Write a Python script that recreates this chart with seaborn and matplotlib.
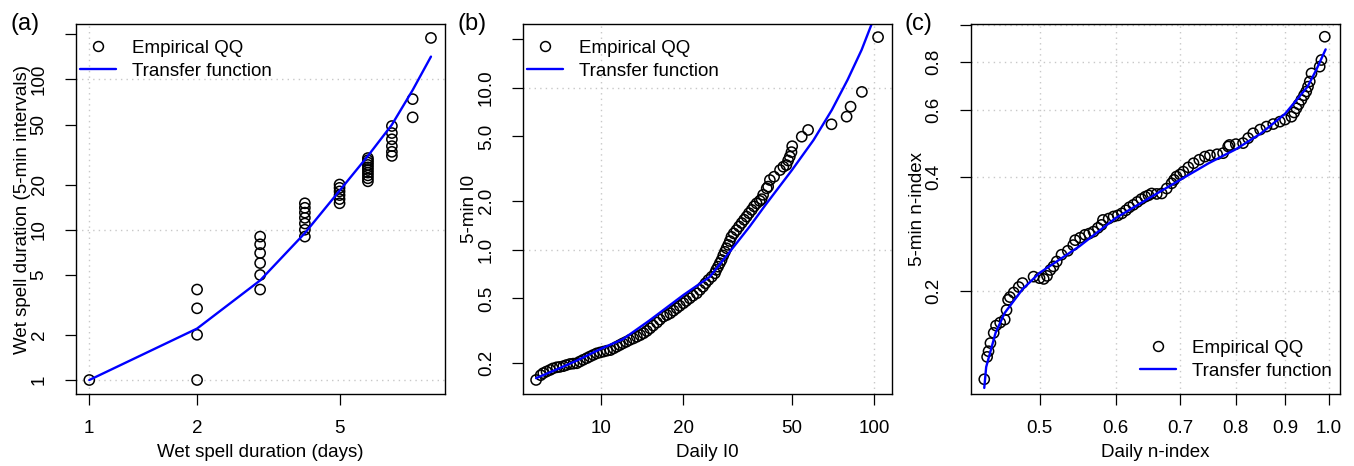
import matplotlib
matplotlib.use("Agg")
import matplotlib.pyplot as plt
from matplotlib.lines import Line2D
import seaborn as sns

# ---- (a) wet spell duration ----
a_days = [1,
          2, 2, 2, 2,
          3, 3, 3, 3, 3, 3,
          4, 4, 4, 4, 4, 4, 4,
          5, 5, 5, 5, 5, 5,
          6, 6, 6, 6, 6, 6, 6, 6, 6, 6,
          7, 7, 7, 7, 7, 7,
          8, 8,
          9]
a_intervals = [1,
               1, 2, 3, 4,
               4, 5, 6, 7, 8, 9,
               9, 10, 11, 12, 13, 14, 15,
               15, 16, 17, 18, 19, 20,
               21, 22, 23, 24, 25, 26, 27, 28, 29, 30,
               31, 33, 36, 40, 44, 49,
               56, 74,
               189]
a_tf_x = [1, 2, 3, 4, 5, 6, 7, 8, 9]
a_tf_y = [1, 2.2, 4.6, 9.5, 18.2, 31, 50, 85, 142]

# ---- (b) I0 ----
b_daily = [5.77, 6.0, 6.13, 6.3, 6.49, 6.65, 6.87, 7.05, 7.26, 7.45, 7.68, 7.9,
           8.13, 8.35, 8.59, 8.85, 9.09, 9.35, 9.62, 9.9, 10.2, 10.5, 10.8, 11.1,
           11.4, 11.7, 12.0, 12.35, 12.7, 13.1, 13.5, 13.9, 14.3, 14.7, 15.1, 15.5,
           16.0, 16.4, 16.9, 17.4, 17.9, 18.4, 18.9, 19.4, 20.0, 20.5, 21.1, 21.7,
           22.4, 23.0, 23.6, 24.1, 24.7, 25.4, 26.1, 26.4, 26.8, 27.2, 27.6, 28.0,
           28.4, 28.8, 29.2, 29.6, 30.0, 30.6, 31.3, 32.0, 32.7, 33.4, 34.1, 34.8,
           35.6, 36.3, 37.1, 38.1, 38.7, 39.2, 40.4, 40.9, 41.5, 43.0, 45.2, 46.5,
           47.7, 48.4, 49.1, 49.8, 50.1, 54.3, 57.3, 69.8, 79.3, 82.0, 90.2, 103.4]
b_5min = [0.157, 0.168, 0.173, 0.177, 0.181, 0.185, 0.188, 0.189, 0.191, 0.194, 0.197, 0.198,
          0.199, 0.204, 0.209, 0.214, 0.219, 0.224, 0.229, 0.232, 0.235, 0.238, 0.240, 0.246,
          0.252, 0.258, 0.264, 0.270, 0.277, 0.283, 0.290, 0.297, 0.305, 0.315, 0.327, 0.340,
          0.355, 0.370, 0.386, 0.395, 0.405, 0.420, 0.435, 0.450, 0.467, 0.483, 0.501, 0.520,
          0.538, 0.565, 0.591, 0.620, 0.650, 0.680, 0.715, 0.750, 0.785, 0.825, 0.864, 0.920,
          0.970, 1.02, 1.07, 1.13, 1.20, 1.26, 1.32, 1.39, 1.46, 1.53, 1.60, 1.68,
          1.76, 1.85, 1.93, 2.00, 2.05, 2.18, 2.39, 2.45, 2.69, 2.82, 3.10, 3.25,
          3.33, 3.55, 3.75, 4.00, 4.35, 4.98, 5.48, 5.94, 6.62, 7.63, 9.41, 20.5]
b_tf_x = [5.77, 7, 8, 10, 12, 15, 20, 25, 30, 35, 40, 50, 60, 70, 80, 90, 100]
b_tf_y = [0.161, 0.185, 0.204, 0.245, 0.28, 0.365, 0.525, 0.68, 1.0, 1.39, 1.89,
          3.1, 4.75, 7.28, 11.2, 17.1, 27.0]

# ---- (c) n-index ----
c_daily = [0.438, 0.441, 0.4425, 0.4445, 0.448, 0.4505, 0.455, 0.460, 0.462, 0.4637,
           0.4657, 0.470, 0.4757, 0.480, 0.4929, 0.500, 0.505, 0.509, 0.513, 0.517,
           0.521, 0.527, 0.535, 0.542, 0.5445, 0.551, 0.5575, 0.563, 0.569, 0.575,
           0.580, 0.582, 0.590, 0.597, 0.603, 0.609, 0.615, 0.620, 0.626, 0.632,
           0.638, 0.644, 0.649, 0.654, 0.662, 0.670, 0.678, 0.686, 0.690, 0.694,
           0.700, 0.7055, 0.714, 0.723, 0.733, 0.743, 0.752, 0.765, 0.776, 0.7855,
           0.788, 0.800, 0.814, 0.824, 0.834, 0.848, 0.861, 0.875, 0.889, 0.900,
           0.914, 0.920, 0.925, 0.930, 0.936, 0.942, 0.947, 0.951, 0.955, 0.959,
           0.978, 0.982, 0.990]
c_5min = [0.117, 0.134, 0.1387, 0.1457, 0.155, 0.162, 0.165, 0.168, 0.178, 0.1895,
          0.1926, 0.198, 0.2047, 0.2097, 0.218, 0.216, 0.215, 0.219, 0.227, 0.232,
          0.239, 0.249, 0.255, 0.264, 0.272, 0.276, 0.281, 0.283, 0.2865, 0.293,
          0.2984, 0.3075, 0.310, 0.314, 0.316, 0.320, 0.326, 0.332, 0.337, 0.343,
          0.349, 0.354, 0.357, 0.361, 0.360, 0.361, 0.372, 0.384, 0.392, 0.400,
          0.405, 0.412, 0.423, 0.4337, 0.443, 0.4515, 0.455, 0.458, 0.461, 0.480,
          0.4845, 0.487, 0.490, 0.505, 0.520, 0.532, 0.5417, 0.550, 0.558, 0.565,
          0.575, 0.590, 0.605, 0.620, 0.637, 0.655, 0.670, 0.690, 0.712, 0.748,
          0.779, 0.811, 0.934]
c_tf_x = [0.438, 0.44, 0.45, 0.46, 0.48, 0.50, 0.55, 0.60, 0.65, 0.70, 0.75, 0.80,
          0.85, 0.90, 0.95, 0.97, 0.992]
c_tf_y = [0.111, 0.126, 0.155, 0.175, 0.202, 0.223, 0.262, 0.311, 0.351, 0.392,
          0.434, 0.472, 0.52, 0.585, 0.69, 0.764, 0.865]

panel_tags = ["(a)", "(b)", "(c)"]
x_titles = ["Wet spell duration (days)", "Daily I0", "Daily n-index"]
y_titles = ["Wet spell duration (5-min intervals)", "5-min I0", "5-min n-index"]
legend_labels = ["Empirical QQ", "Transfer function"]

a_xticks, a_xticklabels = [1, 2, 5], ["1", "2", "5"]
a_yticks = [1, 2, 5, 10, 20, 50, 100, 200]
a_yticklabels = ["1", "2", "5", "10", "20", "50", "100", ""]
b_xticks, b_xticklabels = [10, 20, 50, 100], ["10", "20", "50", "100"]
b_yticks = [0.2, 0.5, 1, 2, 5, 10, 20]
b_yticklabels = ["0.2", "0.5", "1.0", "2.0", "5.0", "10.0", ""]
c_xticks = [0.5, 0.6, 0.7, 0.8, 0.9, 1.0]
c_xticklabels = ["0.5", "0.6", "0.7", "0.8", "0.9", "1.0"]
c_yticks = [0.2, 0.4, 0.6, 0.8, 1.0]
c_yticklabels = ["0.2", "0.4", "0.6", "0.8", ""]

sns.set_theme(style="white")
plt.rcParams["font.family"] = ["Liberation Sans", "DejaVu Sans"]
plt.rcParams["axes.unicode_minus"] = False
for key in ("text.color", "axes.labelcolor", "xtick.color", "ytick.color",
            "xtick.labelcolor", "ytick.labelcolor"):
    plt.rcParams[key] = "black"

FS = 13.5
fig = plt.figure(figsize=(13.54, 4.66), dpi=100)
W, H = 1354.0, 466.0
lefts = [76, 523.3, 970.7]
ax_w, ax_h = 369.0, 370.0
ax_bottom = 72.0

panels = [
    dict(x=a_days, y=a_intervals, tx=a_tf_x, ty=a_tf_y,
         xlim=(0.918, 9.85), ylim=(0.807, 234),
         xt=a_xticks, xtl=a_xticklabels, yt=a_yticks, ytl=a_yticklabels,
         vgrid=[1], hgrid=[1, 10, 100], legend="upper left"),
    dict(x=b_daily, y=b_5min, tx=b_tf_x, ty=b_tf_y,
         xlim=(5.18, 116.6), ylim=(0.1286, 24.7),
         xt=b_xticks, xtl=b_xticklabels, yt=b_yticks, ytl=b_yticklabels,
         vgrid=[10, 100], hgrid=[1, 10], legend="upper left"),
    dict(x=c_daily, y=c_5min, tx=c_tf_x, ty=c_tf_y,
         xlim=(0.424, 1.026), ylim=(0.107, 1.009),
         xt=c_xticks, xtl=c_xticklabels, yt=c_yticks, ytl=c_yticklabels,
         vgrid=c_xticks, hgrid=c_yticks, legend="lower right"),
]

for i, p in enumerate(panels):
    ax = fig.add_axes([lefts[i] / W, ax_bottom / H, ax_w / W, ax_h / H])
    ax.set_xscale("log")
    ax.set_yscale("log")

    for gx in p["vgrid"]:
        ax.axvline(gx, color="#c8c8c8", lw=1.0, ls=(0, (1, 3)), zorder=0)
    for gy in p["hgrid"]:
        ax.axhline(gy, color="#c8c8c8", lw=1.0, ls=(0, (1, 3)), zorder=0)

    sns.scatterplot(x=p["x"], y=p["y"], ax=ax, marker="o", s=54,
                    facecolor="none", edgecolor="black", linewidth=1.1,
                    zorder=3)
    sns.lineplot(x=p["tx"], y=p["ty"], ax=ax, color="#0000ff", lw=1.7,
                 estimator=None, sort=False, zorder=4)

    ax.set_xlim(*p["xlim"])
    ax.set_ylim(*p["ylim"])
    ax.minorticks_off()
    ax.set_xticks(p["xt"])
    ax.set_xticklabels(p["xtl"])
    ax.set_yticks(p["yt"])
    ax.set_yticklabels(p["ytl"], rotation=90, va="center")
    ax.tick_params(axis="both", which="major", direction="out", length=8,
                   width=0.9, color="black", labelsize=FS,
                   labelcolor="black", bottom=True, left=True)
    ax.tick_params(axis="x", pad=11)
    ax.tick_params(axis="y", pad=12.5)
    for sp in ax.spines.values():
        sp.set_color("black")
        sp.set_linewidth(1.0)
        sp.set_zorder(5)

    ax.set_xlabel(x_titles[i], fontsize=FS, color="black")
    ax.set_ylabel(y_titles[i], fontsize=FS, color="black")
    ax.xaxis.set_label_coords(0.5, -(444 - 394) / ax_h)
    ax.yaxis.set_label_coords(-45.0 / ax_w, 0.5)

    handles = [
        Line2D([], [], marker="o", ls="none", mfc="none", mec="black",
               ms=7.1, mew=1.1),
        Line2D([], [], color="#0000ff", lw=1.7),
    ]
    if p["legend"] == "upper left":
        ax.legend(handles, legend_labels, loc="upper left",
                  bbox_to_anchor=(4.0 / ax_w, 1 - 15.5 / ax_h),
                  frameon=False, fontsize=FS,
                  handlelength=1.9, handletextpad=0.85, borderpad=0.0,
                  borderaxespad=0.0, labelspacing=0.32)
    else:
        ax.legend(handles, legend_labels, loc="lower right",
                  bbox_to_anchor=(1 - 8.0 / ax_w, 14.0 / ax_h),
                  frameon=False, fontsize=FS,
                  handlelength=1.9, handletextpad=0.85, borderpad=0.0,
                  borderaxespad=0.0, labelspacing=0.32)

    fig.text((lefts[i] - 66) / W, 1 - 24 / H, panel_tags[i], fontsize=17,
             ha="left", va="center")

fig.savefig("out.png", dpi=100, facecolor="white")
